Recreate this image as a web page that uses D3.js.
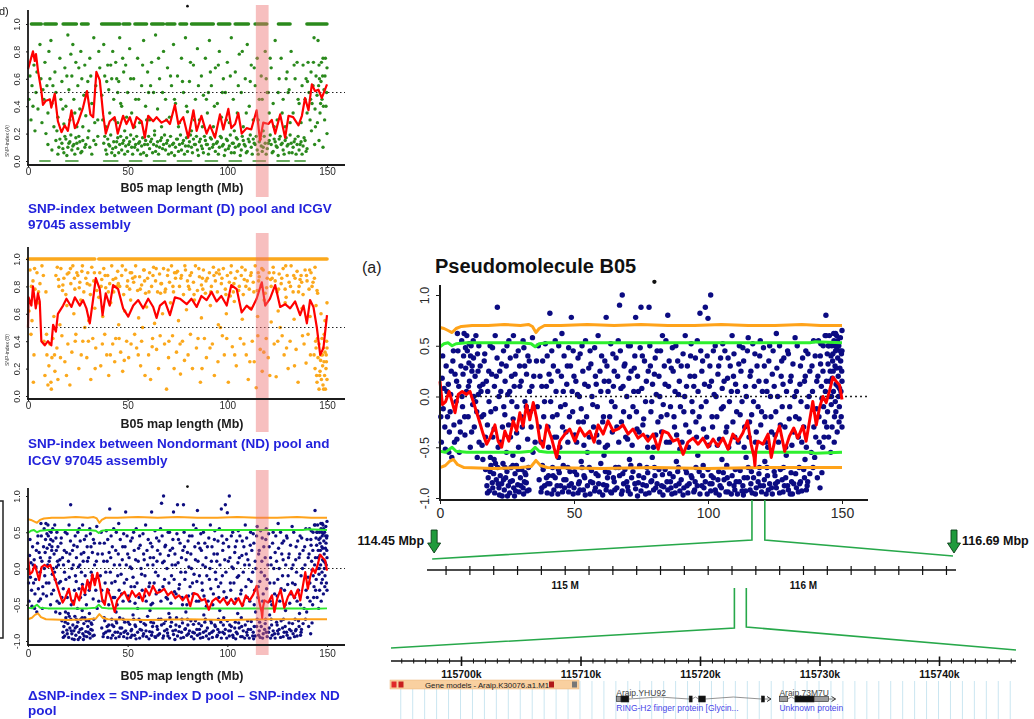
<!DOCTYPE html>
<html>
<head>
<meta charset="utf-8">
<script src="https://cdn.jsdelivr.net/npm/d3@7"></script>
<style>
	body { margin: 0; background: #fff; }
	svg { display: block; }
	text { font-family: "Liberation Sans", Arial, sans-serif; }
</style>
</head>
<body>
<div id="figure"></div>
<script>

// ---------------------------------------------------------------------------
// Data. x is position on B05 in Mb, y is the index value.
// ---------------------------------------------------------------------------

const xTicks = [0, 50, 100, 150];
const indexTicks = [0, 0.2, 0.4, 0.6, 0.8, 1.0];
const deltaTicks = [-1.0, -0.5, 0, 0.5, 1.0];

// candidate region shaded on the three small plots, and the bit pulled out of the big plot
const highlightRegion = [114.3, 120.7];
const zoomRegionMain = [116.4, 121.2];

// one odd mark that sits above every plot
const strayPoints = [[80, 1.13]];

// D pool vs ICGV 97045 (green)
const dPoolOneRuns = [[1.7, 6.7], [8.4, 14.2], [17.6, 24.3], [26.8, 30.2], [36.9, 46.1], [47.7, 51.1], [53.6, 59.5], [62, 68], [69.5, 73.7], [76.2, 79.6], [82, 93], [95.5, 101.3], [103.9, 110.6], [113.9, 119.8], [125.6, 131.5], [139.9, 150]];
const dPoolZeroRuns = [[6, 11], [19, 25], [38, 45], [51, 57], [63, 69], [75, 82], [89, 95], [101, 107], [113, 119], [125, 131], [134, 139]];
const dPoolPoints = [
	[10,0.12],[12,0.08],[14,0.15],[15.5,0.1],[17,0.13],[18,0.06],[19,0.16],[20,0.1],[21,0.14],[22,0.08],[23,0.12],[24,0.17],[25,0.09],[26,0.14],[27,0.07],[29,0.12],[31,0.1],[33,0.15],
	[38,0.13],[39,0.08],[40,0.16],[41,0.11],[42,0.06],[43,0.14],[44,0.1],[45,0.17],[46,0.12],[47,0.08],[48,0.15],[49,0.11],[50,0.07],[51,0.14],[52,0.1],[53,0.16],[54,0.12],[55,0.08],
	[56,0.14],[57,0.11],[58,0.06],[59,0.15],[60,0.12],[61,0.09],[62,0.16],[63,0.12],[64,0.07],[65,0.14],[66,0.1],[67,0.17],[68,0.12],[69,0.08],[70,0.15],[71,0.11],[72,0.06],[73,0.13],
	[74,0.1],[75,0.16],[76,0.12],[77,0.08],[78,0.15],[79,0.11],[80,0.07],[81,0.14],[82,0.1],[83,0.16],[84,0.12],[85,0.08],[86,0.14],[87,0.11],[88,0.06],[89,0.15],[90,0.12],[91,0.09],
	[92,0.16],[93,0.12],[94,0.07],[95,0.14],[96,0.1],[97,0.17],[98,0.12],[99,0.08],[100,0.15],[101,0.11],[102,0.06],[103,0.13],[104,0.1],[105,0.16],[106,0.12],[107,0.08],[108,0.15],
	[109,0.11],[110,0.07],[111,0.14],[112,0.1],[113,0.16],[114,0.12],[115,0.08],[116,0.14],[117,0.11],[118,0.1],[119,0.13],[120,0.09],[121,0.15],[122,0.12],[123,0.07],[124,0.14],
	[125,0.1],[126,0.16],[127,0.12],[128,0.08],[129,0.15],[130,0.11],[131,0.06],[132,0.13],[133,0.1],[134,0.16],[135,0.12],[136,0.08],[137,0.14],[138,0.11],[139,0.15],[140,0.09],
	[15,0.05],[16,0.16],[17.5,0.09],[18.5,0.18],[19.5,0.04],[20.5,0.13],[21.5,0.19],[22.5,0.11],[23.5,0.05],[24.5,0.13],[25.5,0.18],[26.5,0.06],[27.5,0.15],[28.5,0.1],[30,0.17],[32,0.05],
	[34,0.12],[35,0.18],[38.5,0.18],[39.5,0.05],[40.5,0.12],[41.5,0.19],[42.5,0.09],[43.5,0.04],[44.5,0.14],[45.5,0.06],[46.5,0.18],[47.5,0.13],[48.5,0.05],[49.5,0.17],[50.5,0.12],
	[51.5,0.19],[52.5,0.05],[53.5,0.1],[54.5,0.18],[55.5,0.13],[56.5,0.05],[57.5,0.17],[58.5,0.12],[59.5,0.04],[60.5,0.18],[61.5,0.14],[62.5,0.06],[63.5,0.19],[64.5,0.11],[65.5,0.05],
	[66.5,0.15],[67.5,0.09],[68.5,0.19],[69.5,0.13],[70.5,0.05],[71.5,0.18],[72.5,0.12],[73.5,0.04],[74.5,0.16],[75.5,0.07],[76.5,0.19],[77.5,0.13],[78.5,0.05],[79.5,0.17],[80.5,0.11],
	[81.5,0.19],[82.5,0.06],[83.5,0.12],[84.5,0.18],[85.5,0.04],[86.5,0.16],[87.5,0.09],[88.5,0.18],[89.5,0.12],[90.5,0.05],[91.5,0.17],[92.5,0.1],[93.5,0.19],[94.5,0.13],[95.5,0.05],
	[96.5,0.18],[97.5,0.11],[98.5,0.04],[99.5,0.16],[100.5,0.09],[101.5,0.19],[102.5,0.13],[103.5,0.06],[104.5,0.17],[105.5,0.11],[106.5,0.04],[107.5,0.18],[108.5,0.12],[109.5,0.06],
	[110.5,0.16],[111.5,0.19],[112.5,0.05],[113.5,0.13],[114.5,0.18],[115.5,0.05],[116.5,0.16],[117.5,0.07],[118.5,0.18],[119.5,0.05],[120.5,0.13],[121.5,0.19],[122.5,0.06],[123.5,0.16],
	[124.5,0.11],[125.5,0.04],[126.5,0.18],[127.5,0.13],[128.5,0.05],[129.5,0.17],[130.5,0.12],[131.5,0.19],[132.5,0.06],[133.5,0.14],[134.5,0.05],[135.5,0.18],[136.5,0.12],[137.5,0.05],
	[138.5,0.17],[139.5,0.07],
	[0.5,0.45],[1,0.62],[1.5,0.3],[2,0.55],[3,0.7],[3.5,0.22],[4,0.5],[5,0.38],[6,0.85],[6.5,0.6],[7,0.28],[8,0.45],[8.5,0.72],[9,0.2],[9.5,0.55],[10,0.35],[11,0.6],[11.5,0.88],
	[12,0.42],[13,0.25],[13.5,0.65],[14,0.5],[15,0.32],[16,0.75],[16.5,0.45],[17,0.58],[18,0.27],[18.5,0.68],[19,0.4],[20,0.92],[20.5,0.52],[21,0.3],[22,0.62],[22.5,0.85],[23,0.45],
	[24,0.72],[24.5,0.25],[25,0.55],[26,0.38],[26.5,0.8],[27,0.6],[28,0.48],[28.5,0.7],[29,0.33],[30,0.58],[30.5,0.22],[31,0.75],[32,0.42],[33,0.9],[34,0.55],[35,0.3],[36,0.68],
	[37,0.48],[38,0.85],[38.5,0.62],[39,0.25],[40,0.7],[40.5,0.52],[41,0.35],[42,0.6],[42.5,0.8],[43,0.45],[44,0.72],[45,0.28],[45.5,0.58],[46,0.9],[47,0.4],[48,0.65],[48.5,0.22],
	[49,0.7],[50,0.5],[51,0.82],[52,0.35],[53,0.6],[54,0.45],[55,0.75],[56,0.28],[57,0.55],[58,0.88],[59,0.4],[60,0.65],[61,0.3],[62,0.72],[63,0.5],[64,0.92],[65,0.38],[66,0.6],
	[67,0.25],[68,0.8],[69,0.45],[70,0.68],[71,0.32],[72,0.55],[73,0.85],[74,0.42],[75,0.62],[76,0.28],[77,0.75],[78,0.5],[79,0.9],[80,0.36],[81,0.58],[82,0.22],[83,0.7],[84,0.45],
	[85,0.82],[86,0.3],[87,0.62],[88,0.48],[89,0.75],[90,0.35],[91,0.88],[92,0.55],[93,0.25],[94,0.68],[95,0.42],[96,0.8],[97,0.32],[98,0.6],[99,0.5],[100,0.72],[101,0.28],[102,0.9],
	[103,0.45],[104,0.65],[105,0.35],[106,0.78],[107,0.5],[108,0.25],[109,0.6],[110,0.85],[111,0.4],[112,0.7],[113,0.3],[114,0.55],[115,0.75],[116,0.45],[117,0.62],[118,0.22],
	[119,0.8],[120,0.5],[121,0.35],[122,0.68],[123,0.42],[124,0.88],[125,0.3],[126,0.6],[127,0.75],[128,0.45],[129,0.25],[130,0.65],[131,0.52],[132,0.8],[133,0.35],[134,0.6],
	[135,0.72],[136,0.42],[137,0.28],[138,0.7],[45,0.5],[60.5,0.5],[90.5,0.5],[120.5,0.5],[130.5,0.5],
	[2.5,0.4],[4.5,0.65],[7.5,0.52],[10.5,0.8],[12.5,0.55],[14.5,0.22],[17.5,0.38],[19.5,0.62],[21.5,0.78],[23.5,0.35],[25.5,0.68],[27.5,0.25],[29.5,0.5],[31.5,0.62],[33.5,0.28],
	[35.5,0.8],[37.5,0.3],[39.5,0.58],[41.5,0.7],[43.5,0.3],[44.5,0.6],[46.5,0.42],[47.5,0.75],[49.5,0.32],[51.5,0.6],[53.5,0.25],[55.5,0.45],[57.5,0.7],[59.5,0.3],[61.5,0.55],
	[63.5,0.22],[65.5,0.75],[67.5,0.5],[69.5,0.3],[71.5,0.62],[73.5,0.45],[75.5,0.25],[77.5,0.58],[79.5,0.4],[81.5,0.72],[83.5,0.3],[85.5,0.55],[87.5,0.25],[89.5,0.45],[91.5,0.65],
	[93.5,0.4],[95.5,0.7],[97.5,0.5],[99.5,0.3],[101.5,0.62],[103.5,0.22],[105.5,0.55],[107.5,0.8],[109.5,0.35],[111.5,0.58],[113.5,0.68],[115.5,0.3],[117.5,0.45],[119.5,0.6],
	[121.5,0.75],[123.5,0.25],[125.5,0.5],[127.5,0.35],[129.5,0.6],[131.5,0.28],[133.5,0.7],[135.5,0.45],[137.5,0.55],
	[139,0.45],[139.5,0.6],[140,0.35],[140.5,0.72],[141,0.5],[141.5,0.3],[142,0.65],[142.5,0.42],[143,0.55],[143.5,0.9],[144,0.38],[144.5,0.62],[145,0.48],[145.5,0.88],[146,0.7],
	[146.5,0.35],[147,0.58],[147.5,0.45],[148,0.75],[148.5,0.52],[149,0.62],[149.5,0.4],[150,0.68],[144.2,0.25],[145.8,0.55],[146.8,0.42],[147.8,0.62],[148.8,0.3],[149.8,0.5],
	[143.2,0.72],[141.8,0.45],[140.2,0.58],[146.2,0.6],[147.2,0.72],[148.2,0.4],[149.2,0.75],[145.2,0.28],[142.2,0.22],[143.8,0.12],[146,0.15],[148,0.1],[150,0.2]
];
const dPoolWindow = [[0,0.67],[2.5,0.8],[3.4,0.73],[4,0.78],[5,0.66],[6.7,0.51],[7.5,0.41],[9,0.44],[11,0.45],[11.7,0.39],[13.4,0.49],[15,0.29],[16.8,0.21],[18.4,0.26],[20,0.22],[21.8,0.37],[23.5,0.24],[25,0.28],[27.6,0.39],[29.6,0.51],[31.3,0.34],[32.7,0.32],[34.3,0.65],[36,0.59],[37.7,0.34],[39,0.2],[41,0.29],[43.5,0.32],[45,0.2],[47.7,0.33],[49.4,0.27],[51.1,0.32],[52.8,0.24],[54.5,0.32],[57,0.29],[58.6,0.17],[60.3,0.33],[62.8,0.29],[64.5,0.32],[67,0.28],[69.5,0.3],[71.2,0.27],[73.7,0.41],[75.4,0.27],[77.9,0.32],[80.4,0.17],[83,0.37],[84.6,0.22],[87,0.33],[89.6,0.2],[91.3,0.26],[93.8,0.17],[96.3,0.34],[98,0.23],[100.5,0.38],[102,0.24],[103.9,0.27],[105.5,0.35],[107.2,0.2],[109.7,0.24],[112,0.23],[114.7,0.37],[116.4,0.15],[118,0.28],[120.6,0.27],[122.3,0.3],[124,0.2],[126.5,0.34],[129,0.17],[130.7,0.33],[133,0.32],[135.7,0.26],[137.4,0.33],[139,0.46],[140.7,0.37],[142.4,0.56],[144,0.51],[145.7,0.52],[147.4,0.46],[150,0.56]];

// ND pool vs ICGV 97045 (orange)
const ndPoolOneRuns = [[0, 33.5], [35.5, 150]];
const ndPoolPoints = [
	[1,0.92],[2.5,0.84],[3.5,0.78],[4.5,0.9],[6,0.82],[7,0.95],[9,0.76],[14,0.88],[15.5,0.8],[16.5,0.93],[18,0.86],[19,0.74],[20.5,0.9],[21.5,0.82],[22.5,0.95],[23.5,0.78],[25,0.88],
	[26,0.83],[27,0.91],[28,0.76],[29,0.86],[30,0.9],[31,0.81],[32,0.94],[33,0.84],[34.5,0.77],[36,0.9],[37,0.85],[38,0.93],[39,0.79],[40,0.88],[41,0.82],[42,0.95],[43,0.76],
	[44,0.86],[45,0.91],[46,0.8],[47,0.88],[48,0.74],[49,0.92],[50,0.84],[51,0.78],[52,0.9],[53,0.83],[54,0.95],[55,0.77],[56,0.87],[57,0.81],[58,0.92],[59,0.75],[60,0.86],
	[61,0.9],[62,0.8],[63,0.94],[64,0.84],[65,0.76],[66,0.89],[67,0.82],[68,0.93],[69,0.78],[70,0.88],[71,0.83],[72,0.95],[73,0.76],[74,0.86],[75,0.91],[76,0.8],[77,0.88],
	[78,0.74],[79,0.92],[80,0.84],[81,0.78],[82,0.9],[83,0.83],[84,0.95],[85,0.77],[86,0.87],[87,0.81],[88,0.92],[89,0.75],[90,0.86],[91,0.9],[92,0.8],[93,0.94],[94,0.84],
	[95,0.76],[96,0.89],[97,0.82],[98,0.93],[99,0.78],[100,0.88],[101,0.83],[102,0.95],[103,0.76],[104,0.86],[105,0.91],[106,0.8],[107,0.88],[108,0.74],[109,0.92],[110,0.84],
	[111,0.78],[112,0.9],[113,0.83],[114,0.95],[115,0.77],[116,0.87],[117,0.81],[118,0.92],[119,0.75],[120,0.86],[121,0.9],[122,0.8],[123,0.94],[124,0.84],[125,0.76],[126,0.89],
	[127,0.82],[128,0.93],[129,0.78],[130,0.88],[131,0.83],[132,0.95],[133,0.76],[134,0.86],[135,0.91],[136,0.8],[137,0.88],[138,0.74],[139,0.92],[140,0.84],[141,0.78],[142,0.9],
	[143,0.83],[144,0.94],[145,0.77],[17.5,0.81],[24.5,0.9],[35.5,0.72],[44.5,0.8],[52.5,0.86],[58.5,0.84],[66.5,0.75],[73.5,0.9],[80.5,0.8],[87.5,0.86],[94.5,0.9],[101.5,0.73],
	[108.5,0.85],[115.5,0.9],[122.5,0.86],[129.5,0.72],[136.5,0.85],[142.5,0.8],
	[1.7,0.8],[3.3,0.93],[5.3,0.76],[7.7,0.88],[14.7,0.94],[15.3,0.85],[17.3,0.77],[19.7,0.89],[21.3,0.93],[23.3,0.86],[25.7,0.79],[27.3,0.95],[29.7,0.82],[31.3,0.74],[33.3,0.9],
	[36.7,0.8],[38.7,0.88],[40.3,0.76],[42.7,0.85],[45.3,0.82],[47.3,0.95],[49.7,0.8],[51.3,0.9],[53.7,0.87],[56.3,0.78],[58.3,0.92],[60.7,0.76],[62.7,0.88],[64.3,0.93],[66.7,0.82],
	[68.7,0.76],[70.3,0.92],[72.7,0.8],[74.3,0.9],[76.7,0.86],[78.7,0.95],[81.3,0.88],[83.3,0.74],[85.7,0.93],[87.7,0.78],[89.3,0.84],[91.7,0.76],[93.3,0.88],[95.7,0.92],[97.3,0.86],
	[99.3,0.74],[101.7,0.9],[103.3,0.82],[105.7,0.77],[107.3,0.94],[109.3,0.8],[111.7,0.88],[113.3,0.76],[115.7,0.84],[117.3,0.93],[119.7,0.79],[121.7,0.85],[123.3,0.9],[125.7,0.78],
	[127.3,0.86],[129.3,0.95],[131.7,0.8],[133.3,0.88],[135.7,0.76],[137.3,0.83],[139.7,0.88],[141.3,0.92],[143.7,0.86],[145.3,0.75],
	[0.5,0.62],[2,0.55],[5,0.68],[13,0.58],[16,0.52],[19.5,0.66],[23,0.6],[26.5,0.7],[30.5,0.55],[33.5,0.64],[37.5,0.58],[41.5,0.68],[45.5,0.52],[48.5,0.62],[51.5,0.7],[55.5,0.57],
	[59.5,0.65],[63.5,0.53],[67.5,0.6],[71.5,0.68],[75.5,0.55],[79.5,0.63],[83.5,0.7],[87,0.57],[91.5,0.66],[95.5,0.52],[99.5,0.6],[103.5,0.69],[107.5,0.56],[111.5,0.64],[115.2,0.58],
	[118.5,0.7],[122,0.54],[125.5,0.62],[129,0.68],[133.5,0.56],[137.5,0.64],[141.5,0.58],[144.5,0.66],[147,0.6],[149,0.55],[150,0.68],[28.5,0.5],[57.5,0.5],[96.5,0.5],[126.5,0.5],
	[1.5,0.45],[3,0.3],[8,0.4],[8.5,0.15],[9.5,0.3],[10,0.08],[10.5,0.22],[11,0.38],[11.5,0.1],[12,0.28],[12.5,0.42],[13.5,0.18],[14.5,0.35],[15,0.12],[17,0.44],[18.5,0.25],[20,0.38],
	[21,0.08],[22,0.32],[24,0.45],[25.5,0.2],[27.5,0.4],[29.5,0.28],[31.5,0.12],[32.5,0.42],[34,0.35],[36.5,0.22],[38.5,0.45],[39.5,0.3],[40.5,0.15],[42.5,0.38],[43.5,0.25],
	[44,0.42],[46.5,0.32],[47.5,0.18],[49.5,0.4],[50.5,0.28],[53.5,0.45],[54.5,0.35],[56.5,0.22],[57,0.4],[60.5,0.3],[61.5,0.12],[62.5,0.42],[64.5,0.34],[65.5,0.2],[68.5,0.38],
	[69.5,0.05],[70.5,0.28],[72.5,0.44],[74.5,0.32],[76.5,0.16],[77.5,0.4],[78.5,0.26],[81.5,0.45],[82.5,0.2],[84.5,0.35],[86.5,0.1],[88.5,0.42],[89.5,0.28],[92.5,0.38],[93.5,0.15],
	[97.5,0.44],[98.5,0.3],[100.5,0.1],[102.5,0.36],[104.5,0.22],[106.5,0.42],[109.5,0.3],[110.5,0.12],[112.5,0.4],[113.5,0.25],[114.5,0.06],[116.5,0.34],[117.5,0.18],[119.5,0.42],
	[120.5,0.28],[123.5,0.38],[124.5,0.14],[127.5,0.44],[128.5,0.3],[130.5,0.2],[131.5,0.4],[134.5,0.34],[135.5,0.1],[138.5,0.38],[139.5,0.24],[140.5,0.45],[143.5,0.3],
	[2.7,0.1],[9.3,0.45],[11.7,0.05],[13.3,0.3],[16.3,0.28],[19.3,0.15],[23.7,0.4],[26.7,0.3],[30.3,0.4],[33.7,0.2],[37.3,0.38],[41.3,0.3],[45.7,0.42],[48.3,0.26],[51.7,0.38],
	[55.3,0.3],[58.7,0.15],[62.3,0.36],[66.3,0.44],[70.7,0.4],[73.3,0.2],[76.3,0.38],[80.3,0.3],[85.3,0.42],[87.3,0.2],[91.3,0.35],[95.3,0.25],[99.7,0.42],[103.7,0.3],[108.3,0.38],
	[111.3,0.25],[115.3,0.44],[118.3,0.32],[121.3,0.15],[125.3,0.4],[129.7,0.35],[133.7,0.22],[137.7,0.44],[141.7,0.3],[144.3,0.4],[146.3,0.15],[147.7,0.3],[148.3,0.05],[149.7,0.25],
	[144,0.2],[144.5,0.35],[145,0.1],[145.5,0.28],[146,0.05],[146,0.38],[146.5,0.18],[147,0.3],[147.2,0.12],[147.5,0.42],[147.8,0.22],[148,0.08],[148.2,0.35],[148.5,0.25],
	[148.8,0.15],[149,0.32],[149.2,0.05],[149.5,0.2],[149.8,0.4],[150,0.12],[145.2,0.42],[146.8,0.26],[148.6,0.45],[149.6,0.3],[144.8,0.15],[150,0.35]
];
const ndPoolWindow = [[0,0.5],[0.3,0.72],[1.7,0.66],[2.5,0.8],[3.9,0.64],[5,0.75],[5.9,0.69],[6.7,0.4],[8.4,0.37],[10,0.4],[11.7,0.37],[12.6,0.52],[14,0.47],[15,0.6],[17.6,0.66],[19.3,0.71],[21.8,0.65],[23.5,0.72],[26,0.66],[27.6,0.7],[29.3,0.64],[31,0.53],[32.7,0.71],[34,0.86],[36,0.78],[37.4,0.59],[39,0.75],[41,0.66],[42.7,0.81],[45.2,0.78],[47.7,0.64],[50.3,0.58],[52.8,0.66],[55.3,0.7],[57.8,0.64],[60.3,0.71],[62.8,0.65],[64.5,0.57],[66.2,0.66],[68.7,0.69],[71.2,0.59],[73.7,0.72],[76.2,0.71],[79.6,0.67],[82,0.71],[84.6,0.65],[87,0.73],[89.6,0.7],[92.1,0.76],[94.6,0.69],[97,0.73],[99.7,0.66],[102,0.81],[104.7,0.78],[107.2,0.61],[109.7,0.66],[112,0.63],[114.7,0.71],[117.3,0.83],[119,0.66],[121.4,0.71],[124,0.81],[126.5,0.65],[129,0.67],[131.5,0.64],[134,0.69],[136.5,0.59],[138.2,0.66],[139.9,0.53],[141.5,0.7],[143.2,0.65],[144.9,0.5],[146.6,0.3],[148.2,0.35],[150,0.59]];

// delta SNP-index (D - ND), navy; used by the small panel and the big one
const deltaPoints = [
	[0.5,-0.45],[0.8,0.18],[1.2,-0.12],[1.5,0.08],[2,-0.52],[2.3,0.3],[2.8,-0.2],[3.1,0.12],[3.5,-0.35],[4,0.02],[4.4,-0.6],[4.8,0.35],[5.2,-0.28],[5.6,0.22],[6,-0.05],[6.3,-0.42],
	[6.7,0.45],[7,0.1],[7.4,-0.25],[7.8,0.3],[8.1,0.55],[8.4,-0.1],[8.8,0.4],[9,0.62],[9.3,-0.38],[9.6,0.28],[9.9,0.05],[10.2,0.45],[10.5,-0.2],[10.8,0.33],[11,0.15],[11.3,-0.5],
	[11.6,0.5],[11.9,0.25],[12.2,-0.08],[12.5,0.38],[12.8,-0.3],[13.1,0.2],[13.4,0.6],[13.7,-0.15],[14,0.42],[14.3,0.02],[14.6,-0.45],[15,0.3],[9.5,0.48],[10.9,0.52],[11.4,0.4],
	[12,0.3],[8.6,0.22],[7.2,-0.55],[6.5,0.62],[5,0.45],[3.8,-0.15],[12.6,0],[13.9,-0.6],[14.8,0.1],
	[0.3,-0.2],[1,0.4],[1.8,-0.3],[2.6,0.05],[3.3,-0.55],[4.2,0.25],[5.4,-0.45],[6.2,0.15],[7.6,-0.35],[8.2,0],[9.2,-0.2],[10,0.6],[10.6,0.1],[11.8,-0.35],[12.4,0.55],[13.3,-0.05],
	[14.2,0.25],[14.5,0.5],
	[17,-0.72],[17.5,-0.88],[18,-0.8],[18.4,-0.93],[19,-0.68],[19.5,-0.85],[20,-0.76],[20.4,-0.95],[21,-0.82],[21.5,-0.7],[22,-0.9],[22.5,-0.78],[23,-0.86],[23.5,-0.66],[24,-0.92],
	[24.5,-0.8],[25,-0.74],[25.5,-0.88],[26,-0.95],[26.5,-0.7],[27,-0.83],[27.5,-0.9],[28,-0.76],[28.5,-0.68],[29,-0.87],[29.5,-0.94],[30,-0.8],[30.5,-0.72],[31,-0.9],[31.5,-0.84],
	[32,-0.77],[32.5,-0.93],[33,-0.7],[16,-0.62],[18.8,-0.6],[23.2,-0.98],[27.8,-0.98],[30.8,-0.62],
	[17.7,-0.95],[18.7,-0.74],[19.7,-0.9],[20.7,-0.66],[21.7,-0.86],[22.2,-0.97],[23.7,-0.82],[24.2,-0.7],[25.2,-0.98],[26.2,-0.84],[27.2,-0.68],[28.2,-0.93],[29.2,-0.72],[30.2,-0.88],
	[31.2,-0.96],[31.7,-0.75],[32.2,-0.85],[33.2,-0.92],
	[15.5,-0.2],[16,0.12],[16.5,0.35],[17,-0.4],[17.8,0.05],[18.2,0.25],[19,-0.15],[19.6,0.48],[20.2,-0.32],[21,0.2],[21.4,0.88],[22,0],[22.6,-0.45],[23,0.32],[23.8,-0.1],[24.3,0.15],
	[25,0.5],[25.6,-0.28],[26.2,0.38],[26.8,-0.05],[27.4,0.6],[28,0.22],[28.6,-0.36],[29.2,0.45],[29.8,0.1],[30.4,-0.2],[31,0.55],[31.6,0.3],[32.2,-0.1],[32.8,0.4],[33.4,0.05],
	[34,-0.3],[34.5,0.58],[35,0.2],[35.5,-0.45],[24.8,-0.55],[20.6,0.6],[26,0.05],
	[15.3,0.05],[15.7,-0.48],[16.3,-0.18],[16.7,0.42],[17.3,0.15],[17.7,-0.28],[18.3,-0.05],[18.7,0.5],[19.3,0.22],[19.7,-0.4],[20.3,0.1],[20.7,-0.12],[21.3,0.38],[21.7,-0.5],
	[22.3,0.25],[22.7,0.05],[23.3,-0.3],[23.7,0.45],[24.2,-0.18],[24.7,0.3],[25.3,0.02],[25.7,0.55],[26.3,-0.4],[26.7,0.2],[27.3,-0.22],[27.7,0.1],[28.3,0.4],[28.7,-0.1],[29.3,-0.5],
	[29.7,0.3],[30.3,0.15],[30.7,-0.3],[31.3,0.48],[31.7,-0.05],[32.3,0.22],[32.7,-0.42],[33.3,0.35],[33.7,-0.15],[34.3,0.1],[34.7,-0.55],
	[37,-0.82],[38,-0.9],[38.5,-0.72],[39,-0.88],[40,-0.95],[40.5,-0.78],[41,-0.86],[42,-0.7],[42.5,-0.92],[43,-0.8],[44,-0.96],[44.5,-0.75],[45,-0.88],[46,-0.68],[46.5,-0.9],
	[47,-0.82],[48,-0.94],[48.5,-0.74],[49,-0.86],[50,-0.9],[51,-0.77],[51.5,-0.95],[52,-0.84],[53,-0.7],[53.5,-0.92],[54,-0.8],[55,-0.88],[56,-0.96],[56.5,-0.73],[57,-0.85],
	[58,-0.9],[59,-0.78],[59.5,-0.94],[60,-0.66],[61,-0.87],[62,-0.92],[62.5,-0.8],[63,-0.75],[64,-0.95],[65,-0.84],[65.5,-0.7],[66,-0.9],[67,-0.78],[68,-0.93],[68.5,-0.86],
	[69,-0.72],[70,-0.89],[71,-0.96],[71.5,-0.8],[72,-0.74],[73,-0.91],[74,-0.85],[74.5,-0.68],[75,-0.93],[76,-0.8],[77,-0.88],[77.5,-0.75],[78,-0.95],[79,-0.83],[80,-0.7],
	[80.5,-0.9],[81,-0.86],[82,-0.94],[83,-0.77],[83.5,-0.89],[84,-0.72],[85,-0.92],[86,-0.84],[86.5,-0.96],[87,-0.79],[88,-0.88],[89,-0.7],[89.5,-0.93],[90,-0.82],[91,-0.9],
	[92,-0.75],[92.5,-0.95],[93,-0.86],[94,-0.8],[95,-0.92],[95.5,-0.7],[96,-0.88],[97,-0.96],[98,-0.78],[98.5,-0.9],[99,-0.84],[100,-0.72],[101,-0.93],[101.5,-0.86],[102,-0.8],
	[103,-0.95],[104,-0.74],[104.5,-0.88],[105,-0.9],[106,-0.82],[107,-0.68],[107.5,-0.94],[108,-0.86],[109,-0.78],[110,-0.92],[110.5,-0.84],[111,-0.96],[112,-0.73],[113,-0.88],
	[113.5,-0.8],[114,-0.93],[115,-0.7],[116,-0.86],[116.5,-0.95],[117,-0.8],[118,-0.9],[119,-0.76],[119.5,-0.88],[120,-0.94],[121,-0.82],[122,-0.7],[122.5,-0.92],[123,-0.86],
	[124,-0.96],[125,-0.78],[125.5,-0.9],[126,-0.84],[127,-0.72],[128,-0.94],[128.5,-0.88],[129,-0.8],[130,-0.92],[131,-0.75],[131.5,-0.96],[132,-0.86],[133,-0.9],[134,-0.7],
	[134.5,-0.84],[135,-0.93],[136,-0.8],[137,-0.88],[138,-0.76],
	[37.7,-0.94],[38.2,-0.68],[39.7,-0.8],[40.2,-0.86],[41.7,-0.96],[42.2,-0.78],[43.7,-0.88],[44.2,-0.72],[45.7,-0.94],[46.2,-0.82],[47.7,-0.7],[48.2,-0.88],[49.7,-0.96],[50.2,-0.74],
	[51.7,-0.86],[52.2,-0.92],[53.7,-0.78],[54.2,-0.97],[55.7,-0.7],[56.2,-0.84],[57.7,-0.93],[58.2,-0.76],[59.2,-0.86],[60.7,-0.97],[61.7,-0.74],[62.2,-0.88],[63.7,-0.94],[64.7,-0.8],
	[65.2,-0.92],[66.7,-0.7],[67.7,-0.96],[68.2,-0.76],[69.7,-0.84],[70.2,-0.93],[71.2,-0.68],[72.7,-0.86],[73.7,-0.98],[74.2,-0.78],[75.7,-0.87],[76.7,-0.96],[77.2,-0.7],[78.7,-0.84],
	[79.7,-0.92],[80.2,-0.78],[81.7,-0.72],[82.7,-0.88],[83.2,-0.97],[84.7,-0.84],[85.7,-0.76],[86.2,-0.9],[87.7,-0.95],[88.7,-0.74],[89.2,-0.86],[90.7,-0.97],[91.7,-0.72],[92.2,-0.88],
	[93.7,-0.78],[94.7,-0.94],[95.2,-0.84],[96.7,-0.74],[97.7,-0.88],[98.2,-0.68],[99.7,-0.96],[100.7,-0.86],[101.2,-0.78],[102.7,-0.92],[103.7,-0.82],[104.2,-0.97],[105.7,-0.75],
	[106.7,-0.94],[107.2,-0.8],[108.7,-0.96],[109.7,-0.88],[110.2,-0.72],[111.7,-0.84],[112.7,-0.93],[113.2,-0.97],[114.7,-0.8],[115.7,-0.92],[116.2,-0.74],[117.7,-0.96],[118.7,-0.84],
	[119.2,-0.7],[120.7,-0.88],[121.7,-0.96],[122.2,-0.78],[123.7,-0.9],[124.7,-0.74],[125.2,-0.86],[126.7,-0.95],[127.7,-0.82],[128.2,-0.7],[129.7,-0.88],[130.7,-0.96],[131.2,-0.84],
	[132.7,-0.76],[133.7,-0.94],[134.2,-0.86],[135.7,-0.72],[136.7,-0.92],[137.2,-0.84],
	[20.2,-0.62],[27.2,-0.58],[44.2,-0.6],[52.7,-0.64],[61.2,-0.58],[70.7,-0.62],[79.2,-0.6],[88.2,-0.64],[96.2,-0.58],[105.2,-0.62],[114.2,-0.6],[121.2,-0.64],[129.2,-0.58],[136.2,-0.62],
	[36,0.35],[37,-0.3],[38,0.1],[39,-0.05],[40,0.4],[40.5,-0.5],[41,0.82],[41.5,0.15],[42,-0.2],[43,0.55],[43.5,-0.4],[44,0.25],[45,-0.1],[45.5,0.62],[46,0.05],[47,-0.35],[47.5,0.3],
	[48,0.48],[49,0.78],[49.5,-0.15],[50,0.2],[51,-0.45],[51.5,0.38],[52,0],[53,0.5],[53.5,-0.25],[54,0.12],[55,-0.55],[55.5,0.28],[56,0.45],[57,-0.08],[58,0.2],[58.5,-0.38],
	[59,0.6],[60,0.05],[61,-0.2],[61.5,0.35],[62,0.78],[62.5,-0.48],[63,0.15],[64,-0.05],[64.5,0.42],[65,0.25],[66,-0.3],[66.5,0.55],[67,0.9],[67.5,0.08],[68,1],[68.5,-0.15],
	[69,0.32],[70,-0.42],[70.5,0.18],[71,0.5],[72,-0.1],[72.5,0.28],[73,0.78],[73.5,-0.32],[74,0.05],[75,0.88],[75.5,0.4],[76,-0.22],[77,0.15],[77.5,-0.5],[78,0.88],[78.5,0.3],
	[79,-0.05],[80,0.22],[80.5,-0.38],[81,0.45],[82,0],[82.5,-0.2],[83,0.6],[84,0.12],[84.5,-0.45],[85,0.8],[85.5,0.35],[86,-0.1],[87,0.25],[87.5,-0.3],[88,0.5],[89,0.02],
	[89.5,-0.52],[90,0.3],[91,-0.15],[91.5,0.6],[92,0.1],[93,-0.35],[93.5,0.4],[94,-0.05],[95,0.2],[95.5,-0.25],[96,0.55],[97,0.82],[97.5,-0.1],[98,0.35],[99,0.88],[99.5,-0.4],
	[100,0.77],[100.5,0.1],[101,1],[101.5,-0.2],[102,0.45],[103,0],[103.5,-0.48],[104,0.3],[105,-0.12],[105.5,0.52],[106,0.15],[107,-0.3],[107.5,0.38],[108,-0.05],[109,0.6],
	[109.5,0.2],[110,-0.4],[111,0.05],[111.5,0.32],[112,-0.18],[113,0.48],[113.5,-0.5],[114,0.1],[115,0.58],[115.5,-0.25],[116,0.25],[117,-0.05],[117.5,0.42],[118,-0.35],[119,0.15],
	[119.5,0.55],[120,-0.15],[121,0.3],[121.5,-0.45],[122,0.05],[123,0.5],[123.5,-0.2],[124,0.22],[125,-0.38],[125.5,0.62],[126,0],[127,-0.28],[127.5,0.35],[128,0.12],[129,-0.5],
	[130,0.42],[130.5,-0.1],[131,0.2],[132,-0.35],[132.5,0.58],[133,0.05],[134,-0.22],[134.5,0.3],[135,-0.45],[136,0.15],[136.5,0.45],[137,-0.1],[138,0.25],
	[36.3,-0.1],[36.7,0.5],[37.3,0.2],[37.7,-0.45],[38.3,0.35],[38.7,-0.2],[39.3,0.52],[39.7,0.1],[40.3,-0.3],[40.7,0.22],[41.3,-0.05],[41.7,0.45],[42.3,0.3],[42.7,-0.4],[43.3,0.05],
	[43.7,-0.18],[44.3,0.5],[44.7,-0.5],[45.3,0.2],[45.7,-0.3],[46.3,0.4],[46.7,-0.08],[47.3,0.12],[47.7,-0.45],[48.3,-0.2],[48.7,0.3],[49.3,0.05],[49.7,0.45],[50.3,-0.38],[50.7,0.15],
	[51.3,0.02],[51.7,-0.25],[52.3,0.42],[52.7,-0.12],[53.3,0.25],[53.7,-0.48],[54.3,0.55],[54.7,-0.2],[55.3,0.1],[55.7,-0.4],[56.3,0.32],[56.7,0],[57.3,-0.3],[57.7,0.48],[58.3,0.12],
	[58.7,-0.1],[59.3,-0.45],[59.7,0.25],[60.3,0.4],[60.7,-0.25],[61.3,0.15],[61.7,-0.5],[62.3,0.3],[62.7,0.05],[63.3,-0.2],[63.7,0.52],[64.3,-0.35],[64.7,0.1],[65.3,-0.1],[65.7,0.38],
	[66.3,0.2],[66.7,-0.45],[67.3,0.45],[67.7,-0.25],[68.3,0.1],[68.7,0.3],[69.3,-0.4],[69.7,0],[70.3,0.5],[70.7,-0.2],[71.3,0.25],[71.7,-0.48],[72.3,0.05],[72.7,0.4],[73.3,-0.15],
	[73.7,0.2],[74.3,-0.35],[74.7,0.48],[75.3,0.08],[75.7,-0.28],[76.3,0.35],[76.7,-0.05],[77.3,-0.4],[77.7,0.25],[78.3,0.5],[78.7,-0.15],[79.3,0.12],[79.7,-0.5],[80.3,0.38],[80.7,0.02],
	[81.3,-0.25],[81.7,0.2],[82.3,0.45],[82.7,-0.35],[83.3,-0.08],[83.7,0.3],[84.3,0.55],[84.7,-0.18],[85.3,0.1],[85.7,-0.45],[86.3,0.28],[86.7,0.48],[87.3,-0.2],[87.7,0.05],[88.3,-0.38],
	[88.7,0.35],[89.3,0.15],[89.7,-0.1],[90.3,-0.45],[90.7,0.42],[91.3,0],[91.7,-0.28],[92.3,0.3],[92.7,-0.5],[93.3,0.2],[93.7,0.52],[94.3,-0.15],[94.7,0.1],[95.3,0.38],[95.7,-0.4],
	[96.3,0.05],[96.7,-0.2],[97.3,0.45],[97.7,0.25],[98.3,-0.32],[98.7,0.12],[99.3,-0.05],[99.7,0.4],[100.3,-0.48],[100.7,0.3],[101.3,0.15],[101.7,-0.3],[102.3,0.02],[102.7,0.5],
	[103.3,-0.2],[103.7,0.22],[104.3,-0.42],[104.7,0.38],[105.3,0.08],[105.7,-0.1],[106.3,0.45],[106.7,-0.35],[107.3,0.18],[107.7,-0.5],[108.3,0.3],[108.7,0.05],[109.3,-0.25],
	[109.7,0.42],[110.3,0.12],[110.7,-0.15],[111.3,-0.45],[111.7,0.5],[112.3,0.25],[112.7,-0.05],[113.3,0.35],[113.7,-0.3],[114.3,0],[114.7,0.45],[115.3,-0.4],[115.7,0.2],[116.3,-0.18],
	[116.7,0.52],[117.3,0.1],[117.7,-0.45],[118.3,0.3],[118.7,-0.1],[119.3,0.4],[119.7,-0.28],[120.3,0.05],[120.7,0.48],[121.3,-0.2],[121.7,0.15],[122.3,-0.5],[122.7,0.35],[123.3,0],
	[123.7,-0.35],[124.3,0.45],[124.7,0.1],[125.3,-0.15],[125.7,0.28],[126.3,-0.45],[126.7,0.5],[127.3,0.2],[127.7,-0.1],[128.3,0.38],[128.7,-0.3],[129.3,0.05],[129.7,0.45],
	[130.3,-0.22],[130.7,0.15],[131.3,-0.48],[131.7,0.32],[132.3,0],[132.7,-0.2],[133.3,0.5],[133.7,-0.4],[134.3,0.12],[134.7,-0.05],[135.3,0.38],[135.7,-0.3],[136.3,0.2],[136.7,-0.5],
	[137.3,0.42],[137.7,0],
	[138.5,-0.55],[139,0.05],[139.5,-0.3],[140,0.4],[140.5,-0.12],[141,0.2],[141.5,-0.45],[142,0.32],[142.5,-0.02],[143,0.5],[143.5,-0.25],[144,0.8],[144.2,0.15],[144.5,0.42],
	[145,-0.4],[145.3,0.6],[145.6,0.25],[146,-0.08],[146.2,0.5],[146.5,0.35],[146.8,0.05],[147,0.55],[147.2,-0.2],[147.4,0.3],[147.6,0.45],[147.8,0.12],[148,0.6],[148.2,-0.35],
	[148.4,0.38],[148.6,0.2],[148.8,0.5],[149,-0.1],[149.2,0.28],[149.4,0.58],[149.6,0.05],[149.8,0.42],[150,0.65],[150,0.15],[145.8,-0.55],[146.4,0.18],[147.1,-0.45],[147.9,0.28],
	[148.9,-0.25],[149.5,0.35],[143.8,0.05],[142.8,-0.5],[141.2,0.55],[139.8,-0.6],[144.8,0.32],[146.9,0.62],[148.1,0.48],[149.1,0.08],[147.5,-0.05],[146.6,0.42],[145.5,0],
	[144.6,-0.15],[139.2,-0.7],[140.8,-0.8],[141.8,-0.9],[142.5,-0.75],
	[138.8,0.3],[139.4,0.55],[140.2,-0.4],[140.6,0.15],[141.4,-0.2],[141.9,0.4],[142.3,0.1],[142.9,0.25],[143.3,-0.4],[143.7,0.6],[144.3,-0.3],[144.9,0.5],[145.4,0.15],[145.9,0.4],
	[146.3,-0.3],[146.7,0.25],[147.3,0.5],[147.7,-0.15],[148.3,0.55],[148.7,0],[149.3,0.45],[149.7,-0.2],[149.9,0.25],[148.5,0.1],[147.6,0.62],[146.1,0],[145.1,0.5],[144.1,0.6],
	[143.1,-0.1],[142.1,0.52],[150,-0.3],[150,0.45]
];
const deltaWindow = [[0,0.15],[0.9,-0.08],[2.1,-0.05],[3.4,0.05],[4.6,-0.06],[5.6,-0.16],[6.8,0.02],[8.3,0.05],[9.9,0.02],[11.2,0.05],[12.4,-0.05],[14.3,-0.21],[16.1,-0.37],[17.4,-0.47],[18.6,-0.41],[20.5,-0.28],[21.7,-0.44],[23,-0.5],[24.2,-0.34],[25.7,-0.44],[27.3,-0.24],[28.6,-0.34],[29.8,-0.16],[31,-0.29],[32.3,-0.08],[33.5,-0.23],[34.8,-0.06],[36,-0.21],[37.3,-0.44],[38.5,-0.5],[39.8,-0.28],[41.6,-0.41],[43.5,-0.6],[44.7,-0.44],[46.6,-0.37],[48.4,-0.32],[50.3,-0.44],[52.2,-0.31],[54,-0.39],[55.9,-0.34],[57.5,-0.45],[59,-0.28],[60.9,-0.37],[62.7,-0.24],[64.6,-0.34],[66.5,-0.32],[68.3,-0.28],[70.2,-0.37],[72,-0.32],[73.9,-0.41],[75.8,-0.37],[77.6,-0.44],[79.5,-0.37],[81.4,-0.52],[83.2,-0.34],[85.1,-0.36],[87,-0.44],[88.8,-0.42],[90.7,-0.57],[92.5,-0.45],[94.4,-0.41],[96.3,-0.47],[98.1,-0.41],[100,-0.5],[101.9,-0.42],[103.7,-0.49],[105.6,-0.41],[107.5,-0.52],[109.3,-0.37],[111.2,-0.44],[113,-0.36],[114.7,-0.24],[116.1,-0.47],[117.2,-0.6],[117.5,-0.68],[117.8,-0.55],[118.6,-0.44],[120.5,-0.47],[122.4,-0.37],[123.6,-0.6],[125.1,-0.41],[126.7,-0.29],[128.6,-0.54],[130.4,-0.39],[132,-0.31],[133.5,-0.41],[135.4,-0.29],[136.6,-0.44],[137.9,-0.24],[139.1,-0.05],[140.4,-0.28],[141.6,-0.11],[142.9,0],[144.1,-0.06],[145.3,0.05],[146.6,0.19],[147.8,0.15],[149.1,0.11],[150,-0.03]];

// significance thresholds for delta (99% orange, 95% green)
const deltaUpper99 = [[0,0.68],[1.5,0.67],[3,0.65],[4.5,0.63],[6,0.67],[8,0.69],[12,0.7],[18,0.7],[24,0.71],[30,0.7],[33,0.71],[34.5,0.69],[35.8,0.63],[37,0.67],[39,0.7],[45,0.7],[55,0.71],[65,0.7],[75,0.71],[85,0.7],[95,0.7],[105,0.71],[115,0.7],[125,0.7],[135,0.71],[142,0.7],[150,0.7]];
const deltaUpper95 = [[0,0.49],[1.5,0.52],[3,0.53],[4.5,0.5],[6,0.52],[10,0.53],[20,0.53],[30,0.53],[34,0.52],[35.5,0.49],[37,0.52],[40,0.53],[60,0.53],[80,0.53],[100,0.53],[120,0.53],[138,0.53],[140,0.54],[150,0.53]];
const deltaLower95 = [[0,-0.54],[2,-0.55],[4.5,-0.5],[6,-0.54],[10,-0.55],[20,-0.55],[30,-0.55],[34,-0.54],[35.5,-0.5],[37,-0.54],[40,-0.55],[60,-0.55],[80,-0.55],[100,-0.55],[120,-0.55],[138,-0.55],[140,-0.56],[150,-0.55]];
const deltaLower99 = [[0,-0.7],[2,-0.68],[3.5,-0.64],[5,-0.62],[6.5,-0.67],[9,-0.7],[20,-0.71],[30,-0.7],[34,-0.69],[35.8,-0.63],[37.5,-0.68],[40,-0.7],[60,-0.71],[80,-0.7],[100,-0.71],[120,-0.7],[140,-0.7],[150,-0.7]];

// physical map below the big plot (Mb)
const genomeWindow = [114.45, 116.69];
const genomeAxisSpan = [114.42, 116.64];
const genomeTicks = [114.5, 114.6, 114.7, 114.8, 114.9, 115.0, 115.1, 115.2, 115.3, 115.4, 115.5, 115.6, 115.7, 115.8, 115.9, 116.0, 116.1, 116.2, 116.3, 116.4, 116.5, 116.6];
const genomeLabels = [115, 116];
const geneZoomRegion = [115.71, 115.76];

// gene browser strip (kb)
const rulerSpan = [115694.1, 115746.4];
const rulerLabels = [115700, 115710, 115720, 115730, 115740];
const trackName = 'Gene models - Araip.K30076.a1.M1';
const genes = [
	{ id: 'Araip.YHU92', note: 'RING-H2 finger protein [Glycin...', start: 115712.95, end: 115725.9,
	  parts: [[115712.95, 115713.35, 'utr'], [115713.35, 115714.0, 'cds'], [115719.05, 115719.3, 'cds'], [115719.85, 115720.4, 'cds'], [115725.1, 115725.35, 'cds']] },
	{ id: 'Araip.73M7U', note: 'Unknown protein', start: 115726.6, end: 115731.3,
	  parts: [[115726.6, 115727.3, 'utr'], [115727.9, 115729.5, 'cds'], [115729.5, 115730.7, 'utr']] }
];


/**
 * SnpPanel class.
 *
 * One SNP-index scatter: dots, threshold lines, sliding window and the R-ish axes.
 */
class SnpPanel {

	/** svg to draw in, cfg has the data plus where the panel sits on the page */
	constructor(svg, cfg) {
		this.cfg = cfg;
		this.x = d3.scaleLinear().domain([0, 150]).range(cfg.xRange);
		this.y = d3.scaleLinear().domain(cfg.yDomain).range(cfg.yRange);

		this.group = svg.append('g').attr('class', 'snp-panel');
		if (cfg.filter) this.group.attr('filter', cfg.filter);

		this.update();
	}

	/** draws everything, back to front */
	update() {
		const c = this.cfg, x = this.x, y = this.y, g = this.group;

		// SNPs sitting right on 1.0 (or 0.0) overlap so much they read as a fat dash
		(c.runs || []).forEach(run => {
			g.append('g').selectAll('line').data(run.data).join('line')
				.attr('x1', d => x(d[0])).attr('x2', d => x(d[1]))
				.attr('y1', y(run.value)).attr('y2', y(run.value))
				.attr('stroke', c.dotColor)
				.attr('stroke-width', c.r * (run.weight || 2))
				.attr('stroke-linecap', 'round')
				.attr('opacity', run.opacity || 1);
		});

		g.append('g').selectAll('circle').data(c.points).join('circle')
			.attr('cx', d => x(d[0]))
			.attr('cy', d => y(d[1]))
			.attr('r', c.r)
			.attr('fill', c.dotColor);

		if (c.stray) {
			g.append('g').selectAll('circle').data(strayPoints).join('circle')
				.attr('cx', d => x(d[0])).attr('cy', d => y(d[1]))
				.attr('r', c.r * 0.8).attr('fill', '#111');
		}

		const line = d3.line().x(d => x(d[0])).y(d => y(d[1]));

		(c.thresholds || []).forEach(t => {
			g.append('path').datum(t.data)
				.attr('d', line)
				.attr('fill', 'none')
				.attr('stroke', t.color)
				.attr('stroke-width', c.thrWidth)
				.attr('stroke-linejoin', 'round');
		});

		// the dotted reference (0.5 for single pools, 0 for delta)
		g.append('line')
			.attr('x1', x(0)).attr('x2', c.axisEnd)
			.attr('y1', y(c.refValue)).attr('y2', y(c.refValue))
			.attr('stroke', '#222')
			.attr('stroke-width', c.refWidth)
			.attr('stroke-dasharray', c.refDash);

		g.append('path').datum(c.window)
			.attr('d', line)
			.attr('fill', 'none')
			.attr('stroke', '#ff0000')
			.attr('stroke-width', c.lineWidth)
			.attr('stroke-linejoin', 'round');

		if (c.band) {
			g.append('rect')
				.attr('x', x(highlightRegion[0]))
				.attr('width', x(highlightRegion[1]) - x(highlightRegion[0]))
				.attr('y', c.band[0])
				.attr('height', c.band[1] - c.band[0])
				.attr('fill', '#ee7070')
				.attr('opacity', 0.45);
		}

		this.drawAxes();
		this.drawText();
	}

	/** L shaped axes like base R */
	drawAxes() {
		const c = this.cfg, x = this.x, y = this.y;
		const ax = this.group.append('g').attr('class', 'axes');

		ax.append('line')
			.attr('x1', c.xRange[0] - c.axisWidth / 2).attr('x2', c.axisEnd)
			.attr('y1', c.xAxisY).attr('y2', c.xAxisY)
			.attr('stroke', '#1a1a1a').attr('stroke-width', c.axisWidth);
		ax.append('line')
			.attr('x1', c.xRange[0]).attr('x2', c.xRange[0])
			.attr('y1', c.yAxisTop).attr('y2', c.xAxisY)
			.attr('stroke', '#1a1a1a').attr('stroke-width', c.axisWidth);

		const xAxis = ax.append('g')
			.attr('transform', 'translate(0,' + c.xAxisY + ')')
			.call(d3.axisBottom(x).tickValues(xTicks).tickSize(c.tick).tickFormat(d3.format('d')));
		xAxis.select('.domain').remove();
		xAxis.selectAll('line').attr('stroke', '#1a1a1a');
		xAxis.selectAll('text')
			.attr('y', c.xLabelDrop).attr('dy', null)
			.attr('fill', '#2a2a2a')
			.attr('font-family', '"DejaVu Sans", sans-serif')
			.attr('font-size', c.xFont);

		const yAxis = ax.append('g')
			.attr('transform', 'translate(' + c.xRange[0] + ',0)')
			.call(d3.axisLeft(y).tickValues(c.yTicks).tickSize(c.tick).tickFormat(d => d.toFixed(1)));
		yAxis.select('.domain').remove();
		yAxis.selectAll('line').attr('stroke', '#1a1a1a');
		yAxis.selectAll('text')
			.attr('x', null).attr('dy', null)
			.attr('text-anchor', 'middle')
			.attr('transform', 'translate(' + (-c.yLabelOff) + ',0) rotate(-90)')
			.attr('fill', '#2a2a2a')
			.attr('font-family', '"DejaVu Sans", sans-serif')
			.attr('font-size', c.yFont);
	}

	/** axis title, y title and the blue caption under the small plots */
	drawText() {
		const c = this.cfg, g = this.group;

		if (c.xTitle) {
			g.append('text')
				.attr('x', c.xTitle.x).attr('y', c.xTitle.y)
				.attr('text-anchor', 'middle')
				.attr('font-weight', 'bold')
				.attr('font-size', c.xTitle.size)
				.attr('fill', '#1e1e1e')
				.text('B05 map length (Mb)');
		}

		if (c.yTitle) {
			g.append('text')
				.attr('transform', 'translate(' + c.yTitle.x + ',' + c.yTitle.y + ') rotate(-90)')
				.attr('text-anchor', 'middle')
				.attr('font-size', 5)
				.attr('fill', '#333')
				.text(c.yTitle.text);
		}

		(c.caption || []).forEach(line => {
			g.append('text')
				.attr('x', c.xRange[0]).attr('y', line.y)
				.attr('font-weight', 'bold')
				.attr('font-size', 13.5)
				.attr('fill', '#2424dc')
				.text(line.text);
		});
	}
}


/**
 * RegionZoom class.
 *
 * The physical map strip and the gene browser strip under the big plot,
 * plus the green lines that tie them together.
 */
class RegionZoom {

	constructor(svg, mainX) {
		this.svg = svg;
		this.mainX = mainX;
		this.gx = d3.scaleLinear().domain(genomeAxisSpan).range([427, 956]);
		this.rx = d3.scaleLinear().domain(rulerSpan).range([391, 1016]);
		this.green = '#27a84a';
		this.update();
	}

	update() {
		const svg = this.svg, gx = this.gx, rx = this.rx, mx = this.mainX;
		const g = svg.append('g').attr('class', 'region-zoom');

		// connectors from the big plot down to the Mb axis
		const leftEnd = gx(genomeWindow[0]) - 2, rightEnd = gx.range()[1] - 3;
		g.append('path')
			.attr('d', 'M' + mx(zoomRegionMain[0]) + ',500 V540 L' + leftEnd + ',559')
			.attr('fill', 'none').attr('stroke', this.green).attr('stroke-width', 1.6);
		g.append('path')
			.attr('d', 'M' + mx(zoomRegionMain[1]) + ',500 V540 L' + rightEnd + ',556')
			.attr('fill', 'none').attr('stroke', this.green).attr('stroke-width', 1.6);

		// down arrows + Mbp labels
		const arrowX = [gx(genomeWindow[0]), gx.range()[1] - 2];
		arrowX.forEach((ax, i) => {
			g.append('path')
				.attr('d', 'M' + (ax - 3) + ',530 H' + (ax + 3) + ' V543 H' + (ax + 6.5) + ' L' + ax + ',553 L' + (ax - 6.5) + ',543 H' + (ax - 3) + ' Z')
				.attr('fill', '#1f9a3c').attr('stroke', '#0c3d18').attr('stroke-width', 0.9);
			g.append('text')
				.attr('x', i === 0 ? ax - 10 : ax + 8)
				.attr('y', 545)
				.attr('text-anchor', i === 0 ? 'end' : 'start')
				.attr('font-weight', 'bold')
				.attr('font-size', 12.5)
				.attr('fill', '#111')
				.text(genomeWindow[i] + ' Mbp');
		});

		// Mb axis
		g.append('line')
			.attr('x1', gx.range()[0]).attr('x2', gx.range()[1])
			.attr('y1', 570).attr('y2', 570)
			.attr('stroke', '#111').attr('stroke-width', 1.5);
		g.append('g').selectAll('line').data(genomeTicks).join('line')
			.attr('x1', d => gx(d)).attr('x2', d => gx(d))
			.attr('y1', 566).attr('y2', 575)
			.attr('stroke', '#111').attr('stroke-width', 1.2);
		g.append('g').selectAll('text').data(genomeLabels).join('text')
			.attr('x', d => gx(d)).attr('y', 589)
			.attr('text-anchor', 'middle')
			.attr('font-weight', 'bold')
			.attr('font-size', 10)
			.attr('fill', '#111')
			.text(d => d + ' M');

		// connectors from the Mb axis to the gene browser ruler
		g.append('path')
			.attr('d', 'M' + gx(geneZoomRegion[0]) + ',588 V628 L' + rx.range()[0] + ',648')
			.attr('fill', 'none').attr('stroke', this.green).attr('stroke-width', 1.6);
		g.append('path')
			.attr('d', 'M' + gx(geneZoomRegion[1]) + ',588 V627 L' + rx.range()[1] + ',650')
			.attr('fill', 'none').attr('stroke', this.green).attr('stroke-width', 1.6);

		this.drawBrowser(g);
	}

	/** ruler, track label and the two gene models */
	drawBrowser(g) {
		const rx = this.rx;
		const kb = d3.range(Math.ceil(rulerSpan[0]), Math.floor(rulerSpan[1]) + 1);

		// faint blue grid behind the track
		g.append('g').selectAll('line').data(kb).join('line')
			.attr('x1', d => rx(d) - 1).attr('x2', d => rx(d) - 1)
			.attr('y1', 681).attr('y2', 719)
			.attr('stroke', '#cbe6f1').attr('stroke-width', 1);

		g.append('line')
			.attr('x1', rx.range()[0]).attr('x2', rx.range()[1])
			.attr('y1', 661).attr('y2', 661)
			.attr('stroke', '#111').attr('stroke-width', 1.5);
		g.append('g').selectAll('line').data(kb).join('line')
			.attr('x1', d => rx(d)).attr('x2', d => rx(d))
			.attr('y1', d => rulerLabels.includes(d) ? 656.5 : 658.5)
			.attr('y2', d => rulerLabels.includes(d) ? 666 : 663.5)
			.attr('stroke', '#111').attr('stroke-width', d => rulerLabels.includes(d) ? 1.6 : 1);
		g.append('g').selectAll('text').data(rulerLabels).join('text')
			.attr('x', d => rx(d)).attr('y', 678)
			.attr('text-anchor', 'middle')
			.attr('font-weight', 'bold')
			.attr('font-size', 10.5)
			.attr('fill', '#111')
			.text(d => d + 'k');

		// track label box
		const tb = g.append('g');
		tb.append('rect').attr('x', 390).attr('y', 680).attr('width', 189).attr('height', 9)
			.attr('fill', '#f9d0a0').attr('stroke', '#e9b57a').attr('stroke-width', 0.5);
		tb.append('rect').attr('x', 391.5).attr('y', 681.5).attr('width', 5).attr('height', 6).attr('fill', '#e02828');
		tb.append('rect').attr('x', 398.5).attr('y', 681.5).attr('width', 5).attr('height', 6).attr('fill', '#c81e1e');
		tb.append('rect').attr('x', 549).attr('y', 681.5).attr('width', 5).attr('height', 6).attr('fill', '#b01818');
		tb.append('rect').attr('x', 572).attr('y', 681.5).attr('width', 5).attr('height', 6).attr('fill', '#777');
		tb.append('text').attr('x', 487).attr('y', 687.6)
			.attr('text-anchor', 'middle').attr('font-size', 7.8).attr('fill', '#222')
			.text(trackName);

		// gene models
		const geneY = 699;
		const gg = g.append('g').selectAll('g').data(genes).join('g');

		gg.append('text')
			.attr('x', d => rx(d.start)).attr('y', 695.5)
			.attr('font-size', 8.5).attr('fill', '#444')
			.text(d => d.id);
		gg.append('text')
			.attr('x', d => rx(d.start)).attr('y', 710.5)
			.attr('font-size', 8.5).attr('fill', '#4848e8')
			.text(d => d.note);

		// introns with a small hump between the exons
		gg.each(function(d) {
			const sel = d3.select(this);
			for (let i = 0; i < d.parts.length - 1; i++) {
				const a = rx(d.parts[i][1]), b = rx(d.parts[i + 1][0]);
				if (b - a < 1) continue;
				sel.append('path')
					.attr('d', 'M' + a + ',' + geneY + ' L' + ((a + b) / 2) + ',' + (geneY - 2) + ' L' + b + ',' + geneY)
					.attr('fill', 'none').attr('stroke', '#777').attr('stroke-width', 0.8);
			}
			const last = d.parts[d.parts.length - 1][1];
			sel.append('line')
				.attr('x1', rx(last)).attr('x2', rx(d.end))
				.attr('y1', geneY).attr('y2', geneY)
				.attr('stroke', '#666').attr('stroke-width', 0.8);
			// strand marker at the 3' end
			sel.append('path')
				.attr('d', 'M' + (rx(d.end) - 4) + ',' + (geneY - 2.5) + ' L' + rx(d.end) + ',' + geneY + ' L' + (rx(d.end) - 4) + ',' + (geneY + 2.5))
				.attr('fill', 'none').attr('stroke', '#333').attr('stroke-width', 1);
		});

		gg.selectAll('rect').data(d => d.parts).join('rect')
			.attr('x', p => rx(p[0]))
			.attr('width', p => Math.max(1.5, rx(p[1]) - rx(p[0])))
			.attr('y', p => p[2] === 'cds' ? geneY - 3 : geneY - 2.5)
			.attr('height', p => p[2] === 'cds' ? 6 : 5)
			.attr('fill', p => p[2] === 'cds' ? '#111' : '#9a9a9a')
			.attr('stroke', '#222').attr('stroke-width', 0.6);
	}
}


// ---------------------------------------------------------------------------
// page
// ---------------------------------------------------------------------------

const svg = d3.select('#figure').append('svg')
	.attr('width', 1034)
	.attr('height', 719)
	.style('background', '#fff');

const defs = svg.append('defs');
defs.append('filter').attr('id', 'soft')
	.append('feGaussianBlur').attr('stdDeviation', 0.45);

// left column is a low-res paste in the original, so soften it a touch
const left = svg.append('g').attr('filter', 'url(#soft)');

left.append('text').attr('x', -1).attr('y', 15).attr('font-size', 11).attr('fill', '#222').text('d)');

new SnpPanel(left, {
	xRange: [28, 327], yDomain: [0, 1], yRange: [161, 24],
	xAxisY: 165, yAxisTop: 10, axisEnd: 345, axisWidth: 1.8, tick: 2,
	xLabelDrop: 10, yLabelOff: 8, xFont: 10, yFont: 9, yTicks: indexTicks,
	points: dPoolPoints,
	runs: [{ value: 1, data: dPoolOneRuns }, { value: 0, data: dPoolZeroRuns, weight: 1.1, opacity: 0.7 }],
	dotColor: '#2c8a1e', r: 1.7, stray: true,
	window: dPoolWindow, lineWidth: 2.2, thrWidth: 2,
	refValue: 0.5, refWidth: 1, refDash: '1.5,2.5',
	band: [5, 197],
	xTitle: { x: 182, y: 192, size: 12.5 },
	yTitle: { x: 9, y: 141, text: 'SNP-index (A)' },
	caption: [{ y: 213, text: 'SNP-index between Dormant (D) pool and ICGV' }, { y: 229, text: '97045 assembly' }]
});

new SnpPanel(left, {
	xRange: [28, 327], yDomain: [0, 1], yRange: [396, 259],
	xAxisY: 399, yAxisTop: 247, axisEnd: 345, axisWidth: 1.8, tick: 2,
	xLabelDrop: 10, yLabelOff: 8, xFont: 10, yFont: 9, yTicks: indexTicks,
	points: ndPoolPoints, runs: [{ value: 1, data: ndPoolOneRuns }],
	dotColor: '#fba81c', r: 1.8,
	window: ndPoolWindow, lineWidth: 2.2, thrWidth: 2,
	refValue: 0.5, refWidth: 1, refDash: '1.5,2.5',
	band: [233, 432],
	xTitle: { x: 182, y: 428, size: 12.5 },
	yTitle: { x: 9, y: 350, text: 'SNP-index (B)' },
	caption: [{ y: 448, text: 'SNP-index between Nondormant (ND) pool and' }, { y: 465, text: 'ICGV 97045 assembly' }]
});

new SnpPanel(left, {
	xRange: [28, 327], yDomain: [-1, 1], yRange: [641, 496],
	xAxisY: 645, yAxisTop: 488, axisEnd: 345, axisWidth: 1.8, tick: 2,
	xLabelDrop: 12, yLabelOff: 8, xFont: 10, yFont: 9, yTicks: deltaTicks,
	points: deltaPoints, dotColor: '#0c0c80', r: 1.7, stray: true,
	thresholds: [
		{ data: deltaUpper99, color: '#ffa31a' }, { data: deltaUpper95, color: '#2ee62e' },
		{ data: deltaLower95, color: '#2ee62e' }, { data: deltaLower99, color: '#ffa31a' }
	],
	window: deltaWindow, lineWidth: 2.2, thrWidth: 2,
	refValue: 0, refWidth: 1, refDash: '1.5,2.5',
	band: [470, 655],
	xTitle: { x: 182, y: 680, size: 12.5 },
	caption: [{ y: 700, text: '\u0394SNP-index = SNP-index D pool \u2013 SNP-index ND' }, { y: 715, text: 'pool' }]
});

// cropped bracket on the far left of the delta plot
left.append('path').attr('d', 'M0,501 H3 V638 H0')
	.attr('fill', 'none').attr('stroke', '#222').attr('stroke-width', 1.5);

// big delta plot on the right
svg.append('text').attr('x', 362).attr('y', 273).attr('font-size', 16).attr('fill', '#222').text('(a)');
svg.append('text').attr('x', 435).attr('y', 273)
	.attr('font-size', 20).attr('font-weight', 'bold').attr('fill', '#111')
	.text('Pseudomolecule B05');

const mainPanel = new SnpPanel(svg, {
	xRange: [440, 842], yDomain: [-1, 1], yRange: [498, 295],
	xAxisY: 500, yAxisTop: 285, axisEnd: 868, axisWidth: 2, tick: 4,
	xLabelDrop: 18, yLabelOff: 11, xFont: 14, yFont: 12.5, yTicks: deltaTicks,
	points: deltaPoints, dotColor: '#0b0b82', r: 2.7, stray: true,
	thresholds: [
		{ data: deltaUpper99, color: '#ffa31a' }, { data: deltaUpper95, color: '#2ef02e' },
		{ data: deltaLower95, color: '#2ef02e' }, { data: deltaLower99, color: '#ffa31a' }
	],
	window: deltaWindow, lineWidth: 3, thrWidth: 3,
	refValue: 0, refWidth: 1.4, refDash: '2,3'
});

new RegionZoom(svg, mainPanel.x);

</script>
</body>
</html>
